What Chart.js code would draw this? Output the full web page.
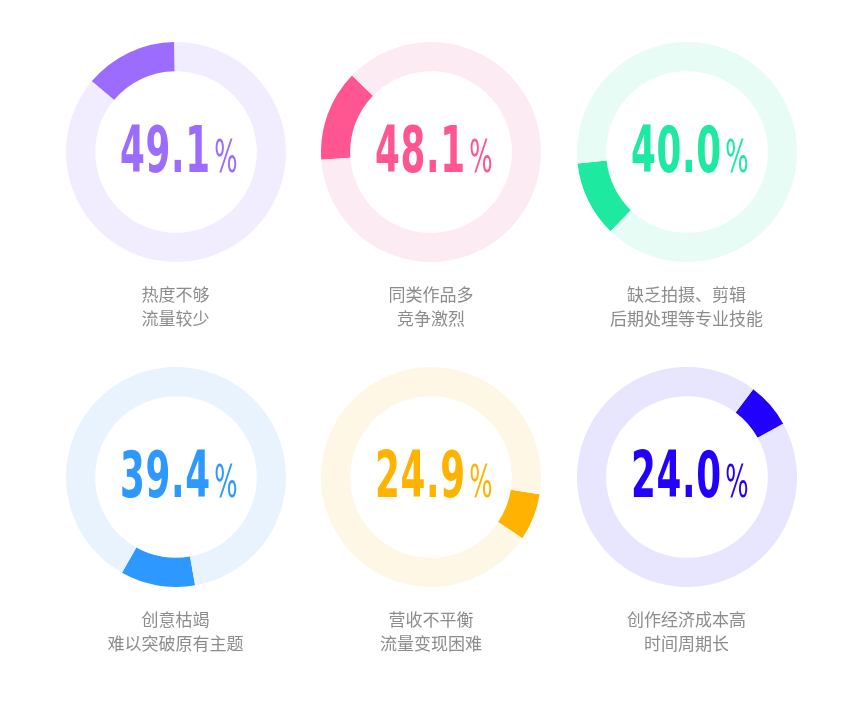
<!DOCTYPE html>
<html>
<head>
<meta charset="utf-8">
<script src="https://cdn.jsdelivr.net/npm/chart.js@4.4.1/dist/chart.umd.min.js"></script>
<style>
    body { margin: 0; background: #fff; }
    #wrap { position: relative; width: 862px; height: 714px; }
    .ring { position: absolute; width: 220px; height: 220px; }
    .num {
        position: absolute; left: 0; top: 0; width: 220px; height: 220px;
        display: flex; align-items: center; justify-content: center;
        pointer-events: none;
    }
    .num .g {
        white-space: nowrap; display: inline-block;
        font-family: "Liberation Sans Narrow", "DejaVu Sans Condensed", sans-serif;
        transform: translate(3px, -2px) scaleX(0.62);
    }
    .num .v { font-weight: bold; font-size: 64px; letter-spacing: 1px; }
    .num .p { font-size: 44px; margin-left: 6px; }
    .label {
        position: absolute; width: 240px; text-align: center;
        font-family: "Noto Sans CJK SC", sans-serif; font-size: 17px;
        line-height: 24px; color: #8c8c8c;
    }
</style>
</head>
<body>
<div id="wrap"></div>
<script>
    // 数据
    var values = [49.1, 48.1, 40.0, 39.4, 24.9, 24.0];
    var titleLine1 = ['热度不够', '同类作品多', '缺乏拍摄、剪辑', '创意枯竭', '营收不平衡', '创作经济成本高'];
    var titleLine2 = ['流量较少', '竞争激烈', '后期处理等专业技能', '难以突破原有主题', '流量变现困难', '时间周期长'];
    // 每个高亮弧的起始角度（度，从顶部顺时针）
    var startAngles = [310, 266, 224, 170, 99, 37];
    var mainColors = ['#9c6cff', '#ff5590', '#1de9a0', '#2d98ff', '#ffb300', '#2200ff'];
    var lightColors = ['#f1edff', '#fdebf3', '#e7fcf4', '#e8f3fe', '#fff7e5', '#e7e5ff'];

    var centersX = [175.5, 431, 686.5];
    var centersY = [152, 477];

    var wrap = document.getElementById('wrap');

    values.forEach(function (v, i) {
        var cx = centersX[i % 3];
        var cy = centersY[Math.floor(i / 3)];

        var box = document.createElement('div');
        box.className = 'ring';
        box.style.left = (cx - 110) + 'px';
        box.style.top = (cy - 110) + 'px';
        var canvas = document.createElement('canvas');
        canvas.width = 220;
        canvas.height = 220;
        box.appendChild(canvas);

        var num = document.createElement('div');
        num.className = 'num';
        num.innerHTML = '<span class="g" style="color:' + mainColors[i] + '"><span class="v">' +
            v.toFixed(1) + '</span><span class="p">%</span></span>';
        box.appendChild(num);
        wrap.appendChild(box);

        var lab = document.createElement('div');
        lab.className = 'label';
        lab.style.left = (cx - 120) + 'px';
        lab.style.top = (cy + 130) + 'px';
        lab.innerHTML = titleLine1[i] + '<br>' + titleLine2[i];
        wrap.appendChild(lab);

        new Chart(canvas.getContext('2d'), {
            type: 'doughnut',
            data: {
                labels: ['占比', '其他'],
                datasets: [{
                    data: [v, 360 - v],
                    backgroundColor: [mainColors[i], lightColors[i]],
                    borderWidth: 0
                }]
            },
            options: {
                responsive: false,
                animation: false,
                rotation: startAngles[i],
                cutout: '73.5%',
                events: [],
                plugins: {
                    legend: { display: false },
                    tooltip: { enabled: false }
                }
            }
        });
    });
</script>
</body>
</html>
